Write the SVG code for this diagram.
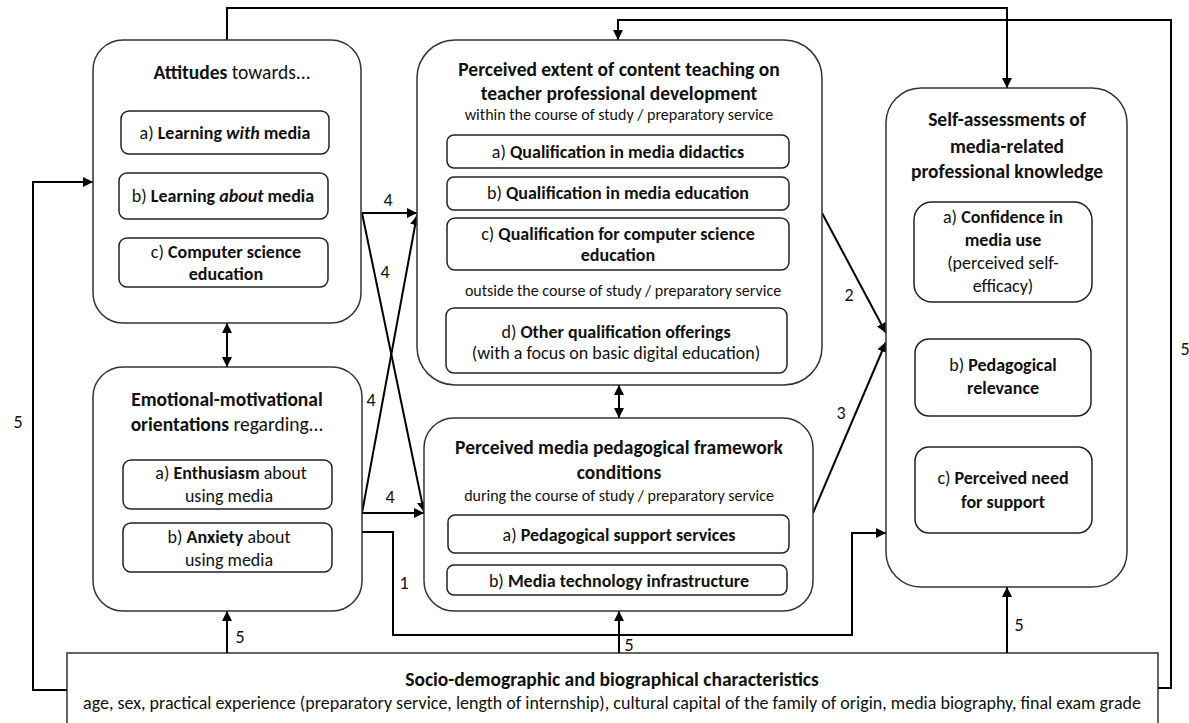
<svg xmlns="http://www.w3.org/2000/svg" width="1189" height="723" viewBox="0 0 1189 723">
<defs>
<style>
text{font-family:Carlito,Lato,"Liberation Sans",sans-serif;fill:#111;text-anchor:middle}
.t{font-size:19.5px;font-weight:bold}
.s{font-size:16px}
.i{font-size:18px}
.b{font-weight:bold}
.bi{font-weight:bold;font-style:italic}
.n{font-weight:normal}
.lbl{font-size:18px}
.outer{fill:#fff;stroke:#333;stroke-width:1.5}
.inner{fill:#fff;stroke:#222;stroke-width:1.5}
.c{fill:none;stroke:#000;stroke-width:2}
</style>
<marker id="ah" viewBox="0 0 10 10" refX="10" refY="5" markerWidth="5" markerHeight="5" orient="auto-start-reverse" markerUnits="strokeWidth">
<path d="M0,0 L10,5 L0,10 z" fill="#000"/>
</marker>
</defs>
<rect width="1189" height="723" fill="#fff"/>

<g id="bottom">
<rect class="outer" x="67" y="653" width="1091" height="80" fill="#fff"/>
<text class="t" x="612" y="686">Socio-demographic and biographical characteristics</text>
<text class="i" x="612" y="709">age, sex, practical experience (preparatory service, length of internship), cultural capital of the family of origin, media biography, final exam grade</text>
</g>

<g id="connectors">
<path class="c" d="M227,40 V8 H1007 V88" marker-end="url(#ah)"/>
<path class="c" d="M1158,688 H1171 V20 H618 V40" marker-end="url(#ah)"/>
<path class="c" d="M67,690 H33 V182 H93" marker-end="url(#ah)"/>
<path class="c" d="M227,323 V367" marker-start="url(#ah)" marker-end="url(#ah)"/>
<path class="c" d="M619,385 V418" marker-start="url(#ah)" marker-end="url(#ah)"/>
<path class="c" d="M362,213 H417" marker-end="url(#ah)"/>
<path class="c" d="M362,213 L424,512" marker-end="url(#ah)"/>
<path class="c" d="M362,513 L417,215" marker-end="url(#ah)"/>
<path class="c" d="M362,513 H424" marker-end="url(#ah)"/>
<path class="c" d="M362,532 H393 V635 H852 V533 H886" marker-end="url(#ah)"/>
<path class="c" d="M822,213 L886,333" marker-end="url(#ah)"/>
<path class="c" d="M813,513 L886,342" marker-end="url(#ah)"/>
<path class="c" d="M227,653 V611" marker-end="url(#ah)"/>
<path class="c" d="M619,653 V611" marker-end="url(#ah)"/>
<path class="c" d="M1007,653 V587" marker-end="url(#ah)"/>
<text class="lbl" x="388" y="206">4</text>
<text class="lbl" x="385" y="278">4</text>
<text class="lbl" x="371" y="406">4</text>
<text class="lbl" x="390" y="503">4</text>
<text class="lbl" x="404" y="589">1</text>
<text class="lbl" x="849" y="301">2</text>
<text class="lbl" x="841" y="419">3</text>
<text class="lbl" x="18" y="428">5</text>
<text class="lbl" x="1185" y="355">5</text>
<text class="lbl" x="240" y="643">5</text>
<text class="lbl" x="629" y="651">5</text>
<text class="lbl" x="1019" y="631">5</text>
</g>

<g id="attitudes">
<rect class="outer" x="93" y="40" width="268" height="283" rx="30"/>
<text class="t" x="232" y="79">Attitudes<tspan class="n"> towards...</tspan></text>
<rect class="inner" x="121" y="111" width="208" height="43" rx="8"/>
<text class="i" x="225" y="139">a) <tspan class="b">Learning </tspan><tspan class="bi">with</tspan><tspan class="b"> media</tspan></text>
<rect class="inner" x="119" y="173" width="209" height="46" rx="8"/>
<text class="i" x="223" y="202">b) <tspan class="b">Learning </tspan><tspan class="bi">about</tspan><tspan class="b"> media</tspan></text>
<rect class="inner" x="119" y="238" width="209" height="49" rx="8"/>
<text class="i" x="226" y="258">c) <tspan class="b">Computer science</tspan></text>
<text class="i b" x="226" y="280">education</text>
</g>

<g id="emotional">
<rect class="outer" x="93" y="367" width="269" height="244" rx="30"/>
<text class="t" x="227" y="406">Emotional-motivational</text>
<text class="t" x="227" y="431">orientations<tspan class="n"> regarding...</tspan></text>
<rect class="inner" x="123" y="460" width="209" height="49" rx="8"/>
<text class="i" x="231" y="479">a) <tspan class="b">Enthusiasm</tspan> about</text>
<text class="i" x="229" y="502">using media</text>
<rect class="inner" x="123" y="523" width="209" height="49" rx="8"/>
<text class="i" x="229" y="543">b) <tspan class="b">Anxiety</tspan> about</text>
<text class="i" x="229" y="566">using media</text>
</g>

<g id="content">
<rect class="outer" x="417" y="40" width="405" height="345" rx="38"/>
<text class="t" x="619" y="76">Perceived extent of content teaching on</text>
<text class="t" x="619" y="100">teacher professional development</text>
<text class="s" x="619" y="120">within the course of study / preparatory service</text>
<rect class="inner" x="447" y="135" width="342" height="33" rx="7"/>
<text class="i" x="618" y="158">a) <tspan class="b">Qualification in media didactics</tspan></text>
<rect class="inner" x="447" y="177" width="342" height="33" rx="7"/>
<text class="i" x="618" y="199">b) <tspan class="b">Qualification in media education</tspan></text>
<rect class="inner" x="447" y="218" width="342" height="52" rx="8"/>
<text class="i" x="618" y="240">c) <tspan class="b">Qualification for computer science</tspan></text>
<text class="i b" x="618" y="261">education</text>
<text class="s" x="623" y="296">outside the course of study / preparatory service</text>
<rect class="inner" x="446" y="308" width="341" height="65" rx="8"/>
<text class="i" x="616" y="338">d) <tspan class="b">Other qualification offerings</tspan></text>
<text class="i" x="616" y="359">(with a focus on basic digital education)</text>
</g>

<g id="framework">
<rect class="outer" x="424" y="418" width="389" height="193" rx="30"/>
<text class="t" x="619" y="454">Perceived media pedagogical framework</text>
<text class="t" x="619" y="479">conditions</text>
<text class="s" x="619" y="501">during the course of study / preparatory service</text>
<rect class="inner" x="448" y="515" width="341" height="38" rx="7"/>
<text class="i" x="619" y="541">a) <tspan class="b">Pedagogical support services</tspan></text>
<rect class="inner" x="447" y="565" width="340" height="30" rx="7"/>
<text class="i" x="619" y="587">b) <tspan class="b">Media technology infrastructure</tspan></text>
</g>

<g id="self">
<rect class="outer" x="886" y="88" width="241" height="499" rx="35"/>
<text class="t" x="1007" y="126">Self-assessments of</text>
<text class="t" x="1007" y="153">media-related</text>
<text class="t" x="1007" y="178">professional knowledge</text>
<rect class="inner" x="914" y="202" width="178" height="100" rx="18"/>
<text class="i" x="1003" y="223">a) <tspan class="b">Confidence in</tspan></text>
<text class="i b" x="1003" y="246">media use</text>
<text class="i" x="1003" y="269">(perceived self-</text>
<text class="i" x="1003" y="292">efficacy)</text>
<rect class="inner" x="915" y="339" width="176" height="77" rx="14"/>
<text class="i" x="1003" y="371">b) <tspan class="b">Pedagogical</tspan></text>
<text class="i b" x="1003" y="394">relevance</text>
<rect class="inner" x="915" y="447" width="177" height="86" rx="14"/>
<text class="i" x="1003" y="484">c) <tspan class="b">Perceived need</tspan></text>
<text class="i b" x="1003" y="508">for support</text>
</g>
</svg>
